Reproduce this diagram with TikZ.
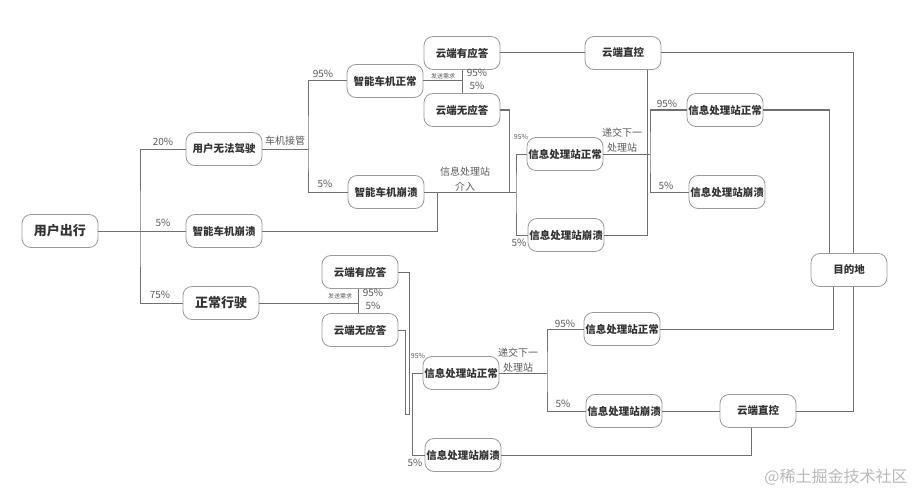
\documentclass[tikz,border=0pt]{standalone}
\usepackage{fontspec}
\usepackage{xcolor}
\usepackage{tikz}
\usetikzlibrary{positioning,calc}
\setmainfont{Noto Sans CJK SC}
\definecolor{wiregray}{HTML}{707070}
\definecolor{boxgray}{HTML}{9A9A9A}
\definecolor{textdark}{HTML}{333333}
\definecolor{lblgray}{HTML}{5A5A5A}

\begin{document}
\begin{tikzpicture}[x=1pt,y=-1pt,
  box/.style={draw=boxgray,line width=0.8pt,rounded corners=9pt,minimum width=76pt,
    minimum height=33pt,inner sep=0pt,text=textdark,font=\fontsize{10.5}{12}\selectfont\bfseries},
  bigbox/.style={box,font=\fontsize{13}{15}\selectfont\bfseries},
  wire/.style={draw=wiregray,line width=1pt},
  lbl/.style={text=lblgray,inner sep=0pt,font=\fontsize{10}{12}\selectfont,align=center},
  tinylbl/.style={text=lblgray,inner sep=0pt,font=\fontsize{6}{7}\selectfont}]
  \useasboundingbox (0,0) rectangle (919,495);

  % Boxes
  \node[bigbox] (start) at (60,231) {用户出行};
  \node[box] (cantdrive) at (224,149) {用户无法驾驶};
  \node[box] (carcrashA) at (224,231) {智能车机崩溃};
  \node[bigbox] (normal) at (221,303) {正常行驶};
  \node[box] (carok) at (385,81) {智能车机正常};
  \node[box] (carcrashB) at (386,192) {智能车机崩溃};
  \node[box] (cloudyes1) at (462,53) {云端有应答};
  \node[box] (cloudno1) at (462,110) {云端无应答};
  \node[box] (direct1) at (623,53) {云端直控};
  \node[box] (stationok1) at (565,154) {信息处理站正常};
  \node[box] (stationcr1) at (566,235) {信息处理站崩溃};
  \node[box] (stationok2) at (725,110) {信息处理站正常};
  \node[box] (stationcr2) at (727,192) {信息处理站崩溃};
  \node[box] (dest) at (849,270) {目的地};
  \node[box] (cloudyes2) at (360,272) {云端有应答};
  \node[box] (cloudno2) at (360,330) {云端无应答};
  \node[box] (stationok3) at (461,373) {信息处理站正常};
  \node[box] (stationcr3) at (463,455) {信息处理站崩溃};
  \node[box] (stationok4) at (622,329) {信息处理站正常};
  \node[box] (stationcr4) at (624,411) {信息处理站崩溃};
  \node[box] (direct2) at (758,411) {云端直控};

  % Junctions
  \coordinate (j1) at (140,231);
  \coordinate (j2) at (308,149);
  \coordinate (j3) at (462,81);
  \coordinate (j4) at (509,192);
  \coordinate (j5) at (516,192);
  \coordinate (j6) at (437,192);
  \coordinate (j7) at (650,154);
  \coordinate (j8) at (647,235);
  \coordinate (k1) at (358,303);
  \coordinate (k2) at (409,414);
  \coordinate (k3) at (405,414);
  \coordinate (k4) at (412,373);
  \coordinate (k5) at (547,373);

  % Upper branch
  \draw[wire] (start.east) -- (carcrashA.west);
  \draw[wire] (cantdrive.west) -| (j1) |- (normal.west);
  \draw[wire] (cantdrive.east) -- (j2);
  \draw[wire] (carok.west) -| (j2) |- (carcrashB.west);
  \draw[wire] (carok.east) -- (j3);
  \draw[wire] (cloudyes1.south) -- (cloudno1.north);
  \draw[wire] (cloudyes1.east) -- (direct1.west);
  \draw[wire] (cloudno1.east) -| (j4);
  \draw[wire] (carcrashB.east) -- (j5);
  \draw[wire] (carcrashA.east) -| (j6);
  \draw[wire] (stationok1.west) -| (j5) |- (stationcr1.west);
  \draw[wire] (stationok1.east) -- (j7);
  \draw[wire] (stationok2.west) -| (j7) |- (stationcr2.west);
  \draw[wire] (j8 |- direct1.south) -- (j8) -- (stationcr1.east);
  \draw[wire] (direct1.east) -| ([xshift=4pt]dest.north);
  \draw[wire] (stationok2.east) -| ([xshift=-20pt]dest.north);

  % Lower branch
  \draw[wire] (normal.east) -- (k1);
  \draw[wire] (cloudyes2.south -| k1) -- (cloudno2.north -| k1);
  \draw[wire] (cloudyes2.east) -| (k2) -- (k3) |- (cloudno2.east);
  \draw[wire] (stationok3.west) -| (k4) |- (stationcr3.west);
  \draw[wire] (stationok3.east) -- (k5);
  \draw[wire] (stationok4.west) -| (k5) |- (stationcr4.west);
  \draw[wire] (stationcr4.east) -- (direct2.west);
  \draw[wire] (stationcr3.east) -| ([xshift=-7pt]direct2.south);
  \draw[wire] ([xshift=-16pt]dest.south) |- (stationok4.east);
  \draw[wire] ([xshift=4pt]dest.south) |- (direct2.east);

  % Labels
  \node[lbl] (p20) at (163,142) {20\%};
  \node[lbl] (p5a) at (163,223) {5\%};
  \node[lbl] (p75) at (160,295) {75\%};
  \node[lbl] (takeover) at (285,141) {车机接管};
  \node[lbl] (p95a) at (323,74) {95\%};
  \node[lbl] (p5b) at (325,184) {5\%};
  \node[tinylbl] (req1) at (443,76) {发送需求};
  \node[lbl] (p95b) at (477,73) {95\%};
  \node[lbl] (p5c) at (477,86) {5\%};
  \node[lbl,font=\fontsize{10}{15}\selectfont] (relay) at (465,179) {信息处理站\\介入};
  \node[tinylbl,font=\fontsize{7}{8}\selectfont] (p95c) at (521,137) {95\%};
  \node[lbl] (p5d) at (519,243) {5\%};
  \node[lbl,font=\fontsize{10}{15}\selectfont] (pass1) at (622,140) {递交下一\\处理站};
  \node[lbl] (p95d) at (667,104) {95\%};
  \node[lbl] (p5e) at (666,186) {5\%};
  \node[tinylbl] (req2) at (340,296) {发送需求};
  \node[lbl] (p95e) at (373,293) {95\%};
  \node[lbl] (p5f) at (373,306) {5\%};
  \node[tinylbl,font=\fontsize{7}{8}\selectfont] (p95f) at (418,356) {95\%};
  \node[lbl] (p5g) at (415,463) {5\%};
  \node[lbl,font=\fontsize{10}{15}\selectfont] (pass2) at (518,360) {递交下一\\处理站};
  \node[lbl] (p95g) at (565,324) {95\%};
  \node[lbl] (p5h) at (563,404) {5\%};
  \node[text=gray!55,inner sep=0pt,font=\fontsize{16}{18}\selectfont] (mark) at (836,477) {@稀土掘金技术社区};
\end{tikzpicture}
\end{document}
